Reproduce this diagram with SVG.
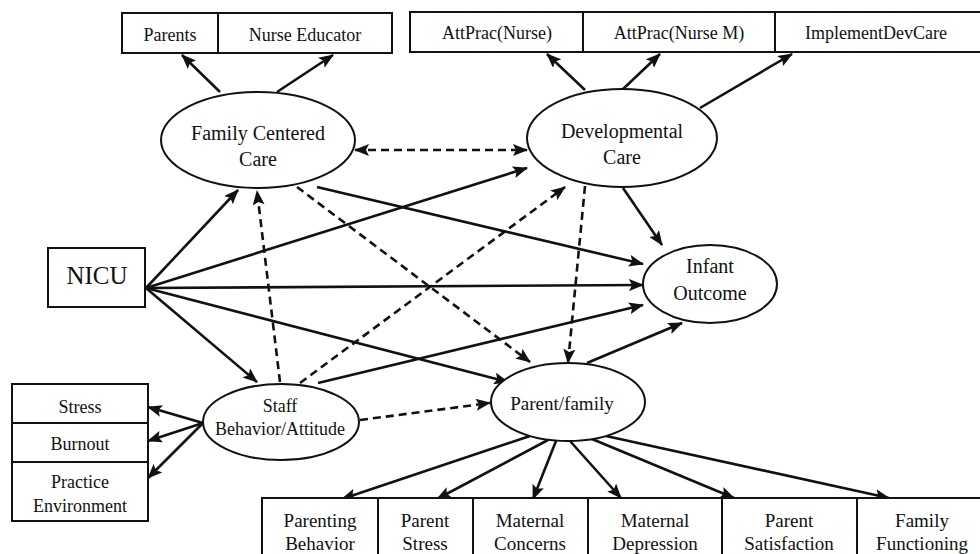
<svg xmlns="http://www.w3.org/2000/svg" width="980" height="554" viewBox="0 0 980 554">
<style>
  .box { fill: #fff; stroke: #111; stroke-width: 2; }
  .ell { fill: #fff; stroke: #111; stroke-width: 2; }
  text { font-family: "Liberation Serif", "Times New Roman", serif; fill: #111; text-anchor: middle; }
  .t18 { font-size: 18px; }
  .t19 { font-size: 19px; }
  .t20 { font-size: 20px; }
  .solid { stroke: #111; stroke-width: 2.6; fill: none; marker-end: url(#ah); }
  .dash { stroke: #111; stroke-width: 2.6; fill: none; stroke-dasharray: 8 5; marker-end: url(#ah); }
</style>
<defs>
  <marker id="ah" markerUnits="userSpaceOnUse" markerWidth="15" markerHeight="12" refX="14" refY="6" orient="auto-start-reverse">
    <path d="M0,0 L15,6 L0,12 L3,6 z" fill="#111"/>
  </marker>
</defs>
<rect width="980" height="554" fill="#fff"/>

<g id="connectors">
  <!-- FCC indicators -->
  <line class="solid" x1="220" y1="92" x2="182" y2="55"/>
  <line class="solid" x1="277" y1="92" x2="333" y2="55"/>
  <!-- DC indicators -->
  <line class="solid" x1="585" y1="90" x2="547" y2="54"/>
  <line class="solid" x1="622" y1="90" x2="660" y2="54"/>
  <line class="solid" x1="700" y1="108" x2="792" y2="54"/>
  <!-- NICU paths -->
  <line class="solid" x1="146" y1="288" x2="238" y2="190"/>
  <line class="solid" x1="146" y1="288" x2="527" y2="168"/>
  <line class="solid" x1="146" y1="288" x2="643" y2="285"/>
  <line class="solid" x1="146" y1="288" x2="508" y2="382"/>
  <line class="solid" x1="146" y1="288" x2="257" y2="382"/>
  <!-- to Infant Outcome -->
  <line class="solid" x1="317" y1="187" x2="643" y2="264"/>
  <line class="solid" x1="623" y1="188" x2="662" y2="245"/>
  <line class="solid" x1="318" y1="383" x2="643" y2="305"/>
  <line class="solid" x1="587" y1="363" x2="682" y2="323"/>
  <!-- Staff indicators -->
  <line class="solid" x1="203" y1="423" x2="148" y2="407"/>
  <line class="solid" x1="203" y1="423" x2="148" y2="441"/>
  <line class="solid" x1="203" y1="423" x2="148" y2="478"/>
  <!-- Parent/family indicators -->
  <line class="solid" x1="530" y1="436" x2="342" y2="499"/>
  <line class="solid" x1="548" y1="440" x2="437" y2="499"/>
  <line class="solid" x1="556" y1="441" x2="533" y2="499"/>
  <line class="solid" x1="570" y1="441" x2="621" y2="498"/>
  <line class="solid" x1="592" y1="439" x2="734" y2="498"/>
  <line class="solid" x1="606" y1="436" x2="889" y2="498"/>
  <!-- dashed -->
  <line class="dash" style="marker-start:url(#ah)" x1="355" y1="150" x2="527" y2="150"/>
  <line class="dash" x1="280" y1="382" x2="257" y2="191"/>
  <line class="dash" x1="300" y1="383" x2="565" y2="187"/>
  <line class="dash" x1="297" y1="187" x2="530" y2="362"/>
  <line class="dash" x1="585" y1="186" x2="568" y2="363"/>
  <line class="dash" x1="360" y1="420" x2="490" y2="403"/>
</g>

<g id="parents-box">
  <rect class="box" x="122" y="13" width="96" height="40"/>
  <text class="t18" x="170" y="41">Parents</text>
</g>
<g id="nurse-educator-box">
  <rect class="box" x="218" y="13" width="174" height="40"/>
  <text class="t18" x="305" y="41">Nurse Educator</text>
</g>

<g id="attprac-nurse-box">
  <rect class="box" x="410" y="12" width="173" height="40"/>
  <text class="t18" x="497" y="39">AttPrac(Nurse)</text>
</g>
<g id="attprac-nursem-box">
  <rect class="box" x="583" y="12" width="192" height="40"/>
  <text class="t18" x="679" y="39">AttPrac(Nurse M)</text>
</g>
<g id="implementdevcare-box">
  <rect class="box" x="775" y="12" width="210" height="40"/>
  <text class="t18" x="876" y="39">ImplementDevCare</text>
</g>

<g id="family-centered-care">
  <ellipse class="ell" cx="258" cy="140" rx="97" ry="48"/>
  <text class="t20" x="258" y="140">Family Centered</text>
  <text class="t20" x="258" y="166">Care</text>
</g>

<g id="developmental-care">
  <ellipse class="ell" cx="622" cy="138" rx="95" ry="49"/>
  <text class="t20" x="622" y="138">Developmental</text>
  <text class="t20" x="622" y="164">Care</text>
</g>

<g id="nicu">
  <rect class="box" x="48" y="248" width="97" height="59"/>
  <text x="97" y="284" style="font-size:25px">NICU</text>
</g>

<g id="infant-outcome">
  <ellipse class="ell" cx="710" cy="284" rx="67" ry="39"/>
  <text class="t20" x="710" y="273">Infant</text>
  <text class="t20" x="710" y="300">Outcome</text>
</g>

<g id="staff-behavior-attitude">
  <ellipse class="ell" cx="281" cy="422" rx="78" ry="38"/>
  <text class="t18" x="280" y="412">Staff</text>
  <text class="t18" x="280" y="435">Behavior/Attitude</text>
</g>

<g id="parent-family">
  <ellipse class="ell" cx="568" cy="402" rx="77" ry="39"/>
  <text class="t19" x="562" y="410">Parent/family</text>
</g>

<g id="stress-box">
  <rect class="box" x="12" y="384" width="136" height="39"/>
  <text class="t18" x="80" y="413">Stress</text>
</g>
<g id="burnout-box">
  <rect class="box" x="12" y="423" width="136" height="39"/>
  <text class="t18" x="80" y="450">Burnout</text>
</g>
<g id="practice-environment-box">
  <rect class="box" x="12" y="462" width="136" height="59"/>
  <text class="t18" x="80" y="488">Practice</text>
  <text class="t18" x="80" y="512">Environment</text>
</g>

<g id="parenting-behavior-box">
  <rect class="box" x="262" y="498" width="116" height="70"/>
  <text class="t19" x="320" y="527">Parenting</text>
  <text class="t19" x="320" y="550">Behavior</text>
</g>
<g id="parent-stress-box">
  <rect class="box" x="378" y="498" width="95" height="70"/>
  <text class="t19" x="425" y="527">Parent</text>
  <text class="t19" x="425" y="550">Stress</text>
</g>
<g id="maternal-concerns-box">
  <rect class="box" x="473" y="498" width="115" height="70"/>
  <text class="t19" x="530" y="527">Maternal</text>
  <text class="t19" x="530" y="550">Concerns</text>
</g>
<g id="maternal-depression-box">
  <rect class="box" x="588" y="498" width="134" height="70"/>
  <text class="t19" x="655" y="527">Maternal</text>
  <text class="t19" x="655" y="550">Depression</text>
</g>
<g id="parent-satisfaction-box">
  <rect class="box" x="722" y="498" width="135" height="70"/>
  <text class="t19" x="789" y="527">Parent</text>
  <text class="t19" x="789" y="550">Satisfaction</text>
</g>
<g id="family-functioning-box">
  <rect class="box" x="857" y="498" width="130" height="70"/>
  <text class="t19" x="922" y="527">Family</text>
  <text class="t19" x="922" y="550">Functioning</text>
</g>
</svg>
